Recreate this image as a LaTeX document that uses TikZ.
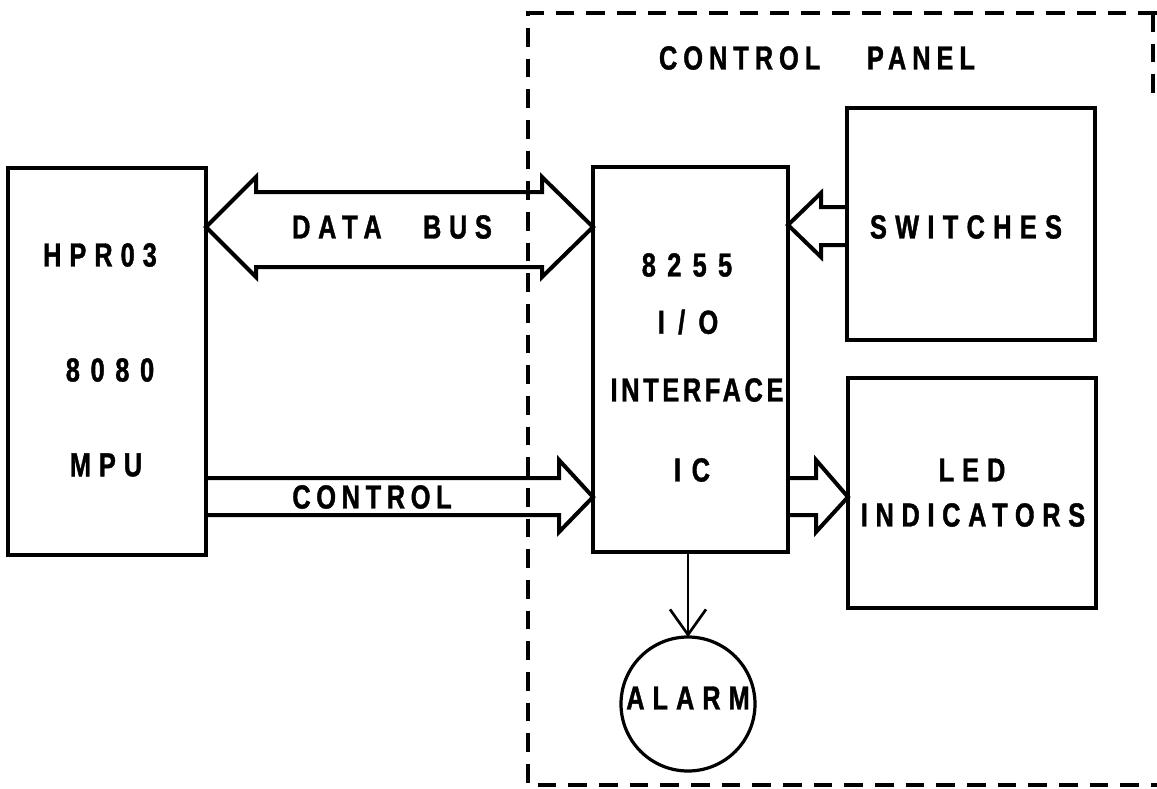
\documentclass[tikz,border=0pt]{standalone}
\usepackage{fontspec}
\newfontfamily\lblfont{Liberation Sans}[FakeStretch=0.76,FakeBold=1.2]
\usetikzlibrary{arrows.meta,fit}
\tikzset{
  box/.style={draw, line width=3pt, inner sep=0pt, outer sep=0pt},
  blk/.style={draw, line width=3pt, line join=miter},
  panel/.style={draw, line width=2.6pt, dash pattern=on 14pt off 9pt},
  lbl/.style={inner sep=0pt, font=\lblfont\bfseries\fontsize{25}{28}\selectfont\addfontfeatures{LetterSpace=#1}},
  lbl/.default=22
}
\begin{document}
\begin{tikzpicture}[x=0.75pt,y=-0.75pt]
\useasboundingbox (0,0) rectangle (1157,789);
% control panel border
\draw[panel] (1157,13) -- (528,13) -- (528,785) -- (1157,785);
\draw[panel] (1153,13) -- (1153,105);
\node[lbl=18] (cp) at (817,58) {CONTROL\hspace{35pt}PANEL};
% boxes
\node[box, fit={(8,168)(206,555)}] (mpu) {};
\node[box, fit={(593,167)(788,552)}] (ifc) {};
\node[box, fit={(847,108)(1095,340)}] (sw) {};
\node[box, fit={(848,378)(1096,608)}] (led) {};
\node[draw, circle, line width=2.4pt, minimum size=100.5pt, inner sep=0pt, outer sep=0pt] (alarm) at (688,704) {};
% texts
\node[lbl=24] (t1) at (100,255) {HPR03};
\node[lbl=32] (t2) at (110,370) {8080};
\node[lbl=24] (t3) at (106,465) {MPU};
\node[lbl=34] (t4) at (687,265) {8255};
\node[lbl=40] (t5) at (688,322) {I/O};
\node[lbl=11] (t6) at (697,390) {INTERFACE};
\node[lbl=32] (t7) at (692,470) {IC};
\node[lbl=25] (t8) at (966,227) {SWITCHES};
\node[lbl=24] (t9) at (972,470) {LED};
\node[lbl=23] (t10) at (973,515) {INDICATORS};
\node[lbl=24] (t11) at (688,698) {ALARM};
% data bus
\draw[blk] (mpu.east |- 0,227) -- (256,177) -- (256,192) -- (542,192) -- (542,177)
  -- (ifc.west |- 0,227) -- (542,277) -- (542,267) -- (256,267) -- (256,277) -- cycle;
\node[lbl=23] (db) at (392,227) {DATA\hspace{31pt}BUS};
% control
\draw[blk] (mpu.east |- 0,478) -- (559,478) -- (559,460) -- (ifc.west |- 0,497)
  -- (559,532) -- (559,515) -- (mpu.east |- 0,515);
\node[lbl=17] (ct) at (372,497) {CONTROL};
% switches to interface
\draw[blk] (sw.west |- 0,207) -- (821,207) -- (821,193) -- (ifc.east |- 0,225)
  -- (821,257) -- (821,245) -- (sw.west |- 0,245);
% interface to led
\draw[blk] (ifc.east |- 0,478) -- (816,478) -- (816,460) -- (led.west |- 0,497)
  -- (816,532) -- (816,515) -- (ifc.east |- 0,515);
% alarm
\draw[line width=2pt, -{Straight Barb[length=19pt,width=27pt,line width=2pt]}]
  (ifc.south -| alarm.north) -- (alarm.north);
\end{tikzpicture}
\end{document}
